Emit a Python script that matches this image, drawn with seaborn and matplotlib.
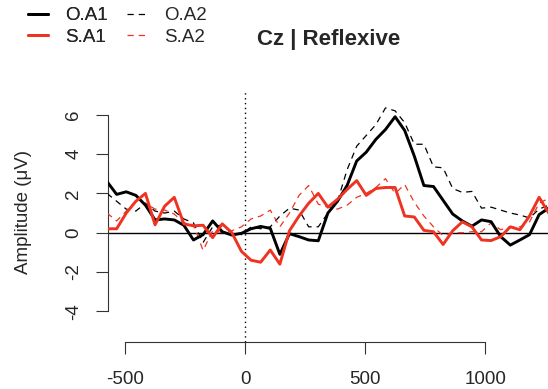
import numpy as np
import pandas as pd
import matplotlib
matplotlib.use("Agg")
import matplotlib.pyplot as plt
from matplotlib.lines import Line2D
import seaborn as sns

###################################
# Data
###################################
time_ms = [-575 + 40 * k for k in range(47)]

oa1 = [2.6, 1.95, 2.08, 1.9, 1.4, 0.65, 0.7, 0.65, 0.38, -0.37,
       -0.1, 0.6, 0.05, -0.12, -0.03, 0.2, 0.32, 0.22, -1.1, -0.05,
       -0.2, -0.37, -0.41, 1.0, 1.6, 2.4, 3.65, 4.1, 4.75, 5.25,
       5.9, 5.2, 3.9, 2.4, 2.35, 1.65, 0.95, 0.6, 0.33, 0.65,
       0.56, -0.2, -0.63, -0.37, -0.1, 0.92, 1.25]
oa2 = [2.0, 1.6, 1.2, 1.1, 1.5, 1.1, 1.0, 1.1, 0.7, 0.5,
       -0.5, 0.3, 0.4, 0.0, -0.1, 0.3, 0.2, 0.3, 0.85, 1.25,
       1.15, 0.3, 0.3, 1.0, 1.6, 3.2, 4.4, 4.95, 5.5, 6.35,
       6.2, 5.6, 4.5, 4.5, 3.35, 3.3, 2.25, 2.05, 2.1, 1.25,
       1.3, 1.15, 1.0, 0.9, 0.75, 1.2, 1.4]
sa1 = [0.2, 0.2, 1.0, 1.6, 2.0, 0.4, 1.35, 1.8, 0.45, 0.35,
       0.38, -0.25, 0.45, 0.0, -0.95, -1.4, -1.5, -0.88, -1.6, 0.1,
       0.85, 1.5, 2.0, 1.3, 1.7, 2.2, 2.65, 1.9, 2.25, 2.3,
       2.3, 0.85, 0.8, 0.12, 0.05, -0.6, 0.1, 0.55, 0.3, -0.37,
       -0.4, -0.2, 0.3, 0.15, 0.85, 1.8, 1.0]
sa2 = [1.0, 0.6, 1.1, 1.6, 1.5, 1.2, 1.15, 0.95, 0.5, 0.4,
       -0.9, 0.1, 0.0, 0.1, 0.3, 0.7, 0.85, 1.15, 0.3, 1.0,
       1.9, 2.4, 1.45, 1.3, 1.2, 1.4, 1.8, 2.0, 2.3, 2.75,
       2.0, 2.45, 1.55, 0.85, 0.3, -0.15, 0.0, 0.0, 0.05, 0.05,
       0.5, 0.15, 0.3, 0.3, 0.55, 1.5, 1.75]

x_ticks = [-500, 0, 500, 1000]
y_ticks = [-4, -2, 0, 2, 4, 6]

df = pd.DataFrame({"time": time_ms, "O.A1": oa1, "O.A2": oa2,
                   "S.A1": sa1, "S.A2": sa2})

###################################
# Plot
###################################
sns.set_style("ticks")
plt.rcParams['font.family'] = ['Liberation Sans', 'DejaVu Sans']

RED = "#EE3322"
fig = plt.figure(figsize=(5.48, 3.89), dpi=100)
ax = fig.add_axes([108 / 548, 1 - 342 / 389, 440 / 548, 252 / 389])

ax.axhline(0, color="black", lw=1.0, zorder=1)
ax.axvline(0, color="black", lw=1.0, ls=(0, (1, 2.5)), zorder=1)

styles = {
    "O.A1": dict(color="black", lw=2.1, dashes=None),
    "S.A1": dict(color=RED, lw=2.1, dashes=None),
    "O.A2": dict(color="black", lw=0.9, dashes=(5, 4)),
    "S.A2": dict(color=RED, lw=0.9, dashes=(5, 4)),
}
for name in ["O.A2", "S.A2", "O.A1", "S.A1"]:
    st = styles[name]
    sns.lineplot(data=df, x="time", y=name, ax=ax, color=st["color"],
                 lw=st["lw"], legend=False, zorder=3)
    if st["dashes"]:
        ax.lines[-1].set_dashes(st["dashes"])

ax.set_xlim(-571, 1262)
ax.set_ylim(-5.56, 7.26)
ax.set_xticks(x_ticks)
ax.set_yticks(y_ticks)
ax.set_xticklabels([str(v) for v in x_ticks])
ax.set_yticklabels([str(v) for v in y_ticks], rotation=90, va="center")
ax.set_xlabel("")
ax.set_ylabel("")
ax.tick_params(direction="out", length=8.6, width=0.8, labelsize=13.5,
               color="#333333")
ax.tick_params(axis="x", pad=12)
ax.tick_params(axis="y", pad=10)
sns.despine(ax=ax)
ax.spines["left"].set_bounds(-4, 6)
ax.spines["bottom"].set_bounds(-500, 1000)
for s in ["left", "bottom"]:
    ax.spines[s].set_linewidth(0.8)
    ax.spines[s].set_color("#333333")

fig.text(24 / 548, 1 - 212 / 389, "Amplitude (\u03bcV)", rotation=90,
         ha="center", va="center", fontsize=13.5)
fig.text(329 / 548, 1 - 40 / 389, "Cz | Reflexive", ha="center",
         va="center", fontsize=16, fontweight="bold")


# legend: two columns, built as two single-column legends
def handle(name):
    st = styles[name]
    h = Line2D([], [], color=st["color"], lw=st["lw"])
    if st["dashes"]:
        h.set_dashes(st["dashes"])
    return h


leg_kw = dict(loc="upper left", frameon=False, fontsize=13.5,
              borderpad=0, borderaxespad=0, handlelength=1.07,
              handletextpad=0.9, labelspacing=0.25)
leg1 = fig.legend([handle("O.A1"), handle("S.A1")], ["O.A1", "S.A1"],
                  bbox_to_anchor=(28 / 548, 0.982), **leg_kw)
fig.add_artist(leg1)
fig.legend([handle("O.A2"), handle("S.A2")], ["O.A2", "S.A2"],
           bbox_to_anchor=(127 / 548, 0.982), **leg_kw)

fig.savefig("out.png", dpi=100)
